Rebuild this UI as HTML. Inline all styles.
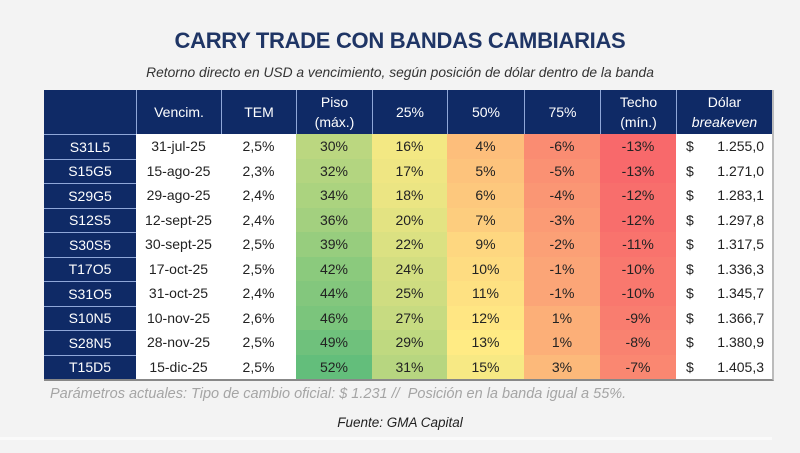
<!DOCTYPE html>
<html><head><meta charset="utf-8">
<style>
body{margin:0;width:800px;height:453px;background:#f3f3f3;font-family:"Liberation Sans",sans-serif;position:relative;overflow:hidden}
#title{position:absolute;top:28px;left:0;width:800px;text-align:center;font-weight:bold;font-size:22px;color:#1f3565;letter-spacing:-0.3px}
#sub{position:absolute;top:65px;left:0;width:800px;text-align:center;font-style:italic;font-size:13.8px;color:#333}
#tbl{position:absolute;left:44px;top:90px;width:728px;background:#fff;border-bottom:2px solid #888;border-right:2px solid #bbb}
.row{display:flex;height:24.5px}
.hdr{height:44px;background:#0f2a66;color:#fff}
.c{box-sizing:border-box;display:flex;align-items:center;justify-content:center;font-size:14px;color:#222;flex-direction:column;line-height:20px}
.hdr .c{color:#fff;border-left:1px solid #8fa7d8;font-size:14px}
.id{background:#0f2a66;color:#fff !important;border-top:1px solid #8fa7d8}
.usd{justify-content:space-between;flex-direction:row;padding:0 8px 0 10px}
#note{position:absolute;top:386px;left:50px;font-style:italic;font-size:14.5px;color:#a5a5a5}
#src{position:absolute;top:415px;left:0;width:800px;text-align:center;font-style:italic;font-size:13.5px;color:#222}
#line{position:absolute;top:437px;left:0;width:772px;height:3px;background:#fafafa}
</style></head><body>
<div id="title">CARRY TRADE CON BANDAS CAMBIARIAS</div>
<div id="sub">Retorno directo en USD a vencimiento, según posición de dólar dentro de la banda</div>
<div id="tbl">
<div class="row hdr">
<div class="c" style="width:92px;border-left:none"></div>
<div class="c" style="width:85px">Vencim.</div>
<div class="c" style="width:75px">TEM</div>
<div class="c" style="width:76px"><span>Piso</span><span>(máx.)</span></div>
<div class="c" style="width:75px">25%</div>
<div class="c" style="width:77px">50%</div>
<div class="c" style="width:76px">75%</div>
<div class="c" style="width:76px"><span>Techo</span><span>(mín.)</span></div>
<div class="c" style="width:96px"><span>Dólar</span><i>breakeven</i></div>
</div>
<div id="body"></div>
</div>
<div id="note">Parámetros actuales: Tipo de cambio oficial: $ 1.231 //&nbsp; Posición en la banda igual a 55%.</div>
<div id="src">Fuente: GMA Capital</div>
<div id="line"></div>
<script>
const tickers=["S31L5","S15G5","S29G5","S12S5","S30S5","T17O5","S31O5","S10N5","S28N5","T15D5"];
const dates=["31-jul-25","15-ago-25","29-ago-25","12-sept-25","30-sept-25","17-oct-25","31-oct-25","10-nov-25","28-nov-25","15-dic-25"];
const tem=["2,5%","2,3%","2,4%","2,4%","2,5%","2,5%","2,4%","2,6%","2,5%","2,5%"];
const piso=[30,32,34,36,39,42,44,46,49,52];
const p25=[16,17,18,20,22,24,25,27,29,31];
const p50=[4,5,6,7,9,10,11,12,13,15];
const p75=[-6,-5,-4,-3,-2,-1,-1,1,1,3];
const techo=[-13,-13,-12,-12,-11,-10,-10,-9,-8,-7];
const breakeven=["1.255,0","1.271,0","1.283,1","1.297,8","1.317,5","1.336,3","1.345,7","1.366,7","1.380,9","1.405,3"];
const widths=[92,85,75,76,75,77,76,76,96];
const all=piso.concat(p25,p50,p75,techo);
const vmin=Math.min(...all),vmax=Math.max(...all),vmid=13;
function mix(a,b,t){return a.map((v,i)=>Math.round(v+(b[i]-v)*t));}
function color(v){const r=[248,105,107],y=[255,235,132],g=[99,190,123];
 const c=v<=vmid?mix(r,y,(v-vmin)/(vmid-vmin)):mix(y,g,(v-vmid)/(vmax-vmid));return `rgb(${c})`;}
const body=document.getElementById('body');
tickers.forEach((t,i)=>{
 const row=document.createElement('div');row.className='row';
 
 
 const cells=[[t,'id'],[dates[i]],[tem[i]],[piso[i],'h'],[p25[i],'h'],[p50[i],'h'],[p75[i],'h'],[techo[i],'h'],[breakeven[i],'usd']];
 const names=['ticker','vencim','tem','piso','p25','p50','p75','techo','breakeven'];
 cells.forEach((c,j)=>{
  const d=document.createElement('div');d.className='c'+(c[1]&&c[1]!=='h'?' '+c[1]:'');
  d.style.width=widths[j]+'px';
  
  
  if(c[1]==='h'){d.style.background=color(c[0]);d.textContent=c[0]+'%';}
  else if(c[1]==='usd'){d.innerHTML='<span>$</span><span>'+c[0]+'</span>';}
  else d.textContent=c[0];
  row.appendChild(d);
 });
 body.appendChild(row);
});
</script>
</body></html>
